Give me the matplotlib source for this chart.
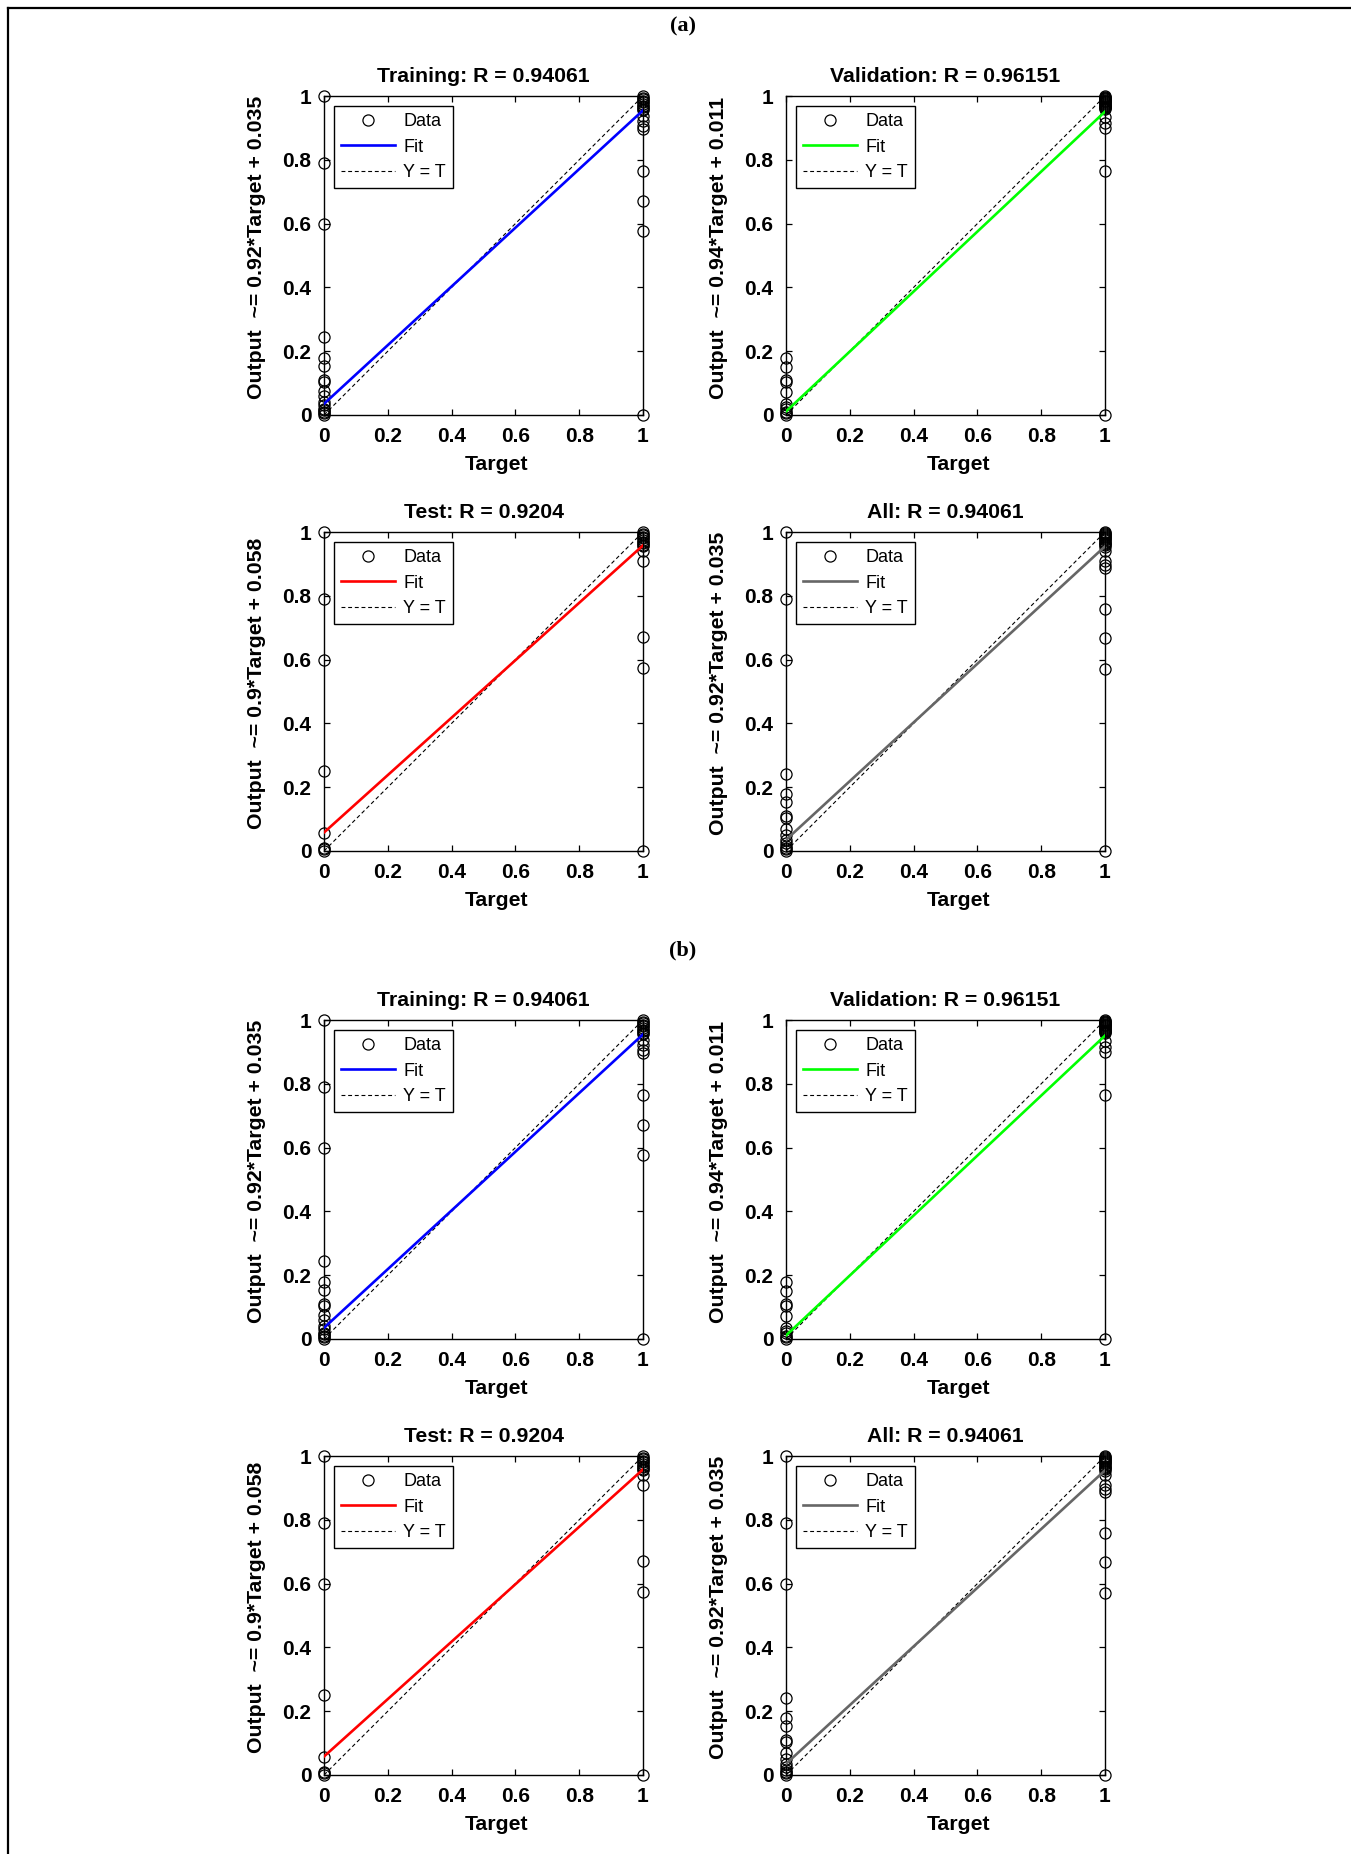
import matplotlib
matplotlib.use("Agg")
import matplotlib.pyplot as plt
from matplotlib.lines import Line2D
import numpy as np

plt.rcParams['font.family'] = ['Liberation Sans', 'DejaVu Sans']

# ---------------- data ----------------
panel_titles = ["Training: R = 0.94061", "Validation: R = 0.96151",
                "Test: R = 0.9204", "All: R = 0.94061"]
fit_slopes = [0.92, 0.94, 0.9, 0.92]
fit_intercepts = [0.035, 0.011, 0.058, 0.035]
ylabels = ["Output  ~= 0.92*Target + 0.035", "Output  ~= 0.94*Target + 0.011",
           "Output  ~= 0.9*Target + 0.058", "Output  ~= 0.92*Target + 0.035"]
fit_colors = ["#0000ff", "#00ff00", "#ff0000", "#666666"]

train_out_t0 = [1.0, 0.79, 0.6, 0.245, 0.18, 0.155, 0.11, 0.105, 0.075, 0.06,
                0.04, 0.03, 0.02, 0.015, 0.01, 0.005, 0.0]
train_out_t1 = [1.0, 0.995, 0.99, 0.985, 0.98, 0.975, 0.97, 0.965, 0.96, 0.955,
                0.938, 0.922, 0.906, 0.896, 0.765, 0.67, 0.576, 0.0]
val_out_t0 = [0.178, 0.152, 0.11, 0.104, 0.072, 0.035, 0.026, 0.018, 0.01, 0.005, 0.0]
val_out_t1 = [1.0, 0.998, 0.995, 0.993, 0.99, 0.988, 0.985, 0.983, 0.98, 0.978,
              0.975, 0.972, 0.97, 0.967, 0.965, 0.962, 0.96, 0.935, 0.915, 0.9,
              0.765, 0.0]
test_out_t0 = [1.0, 0.79, 0.6, 0.25, 0.056, 0.01, 0.005, 0.0]
test_out_t1 = [1.0, 0.995, 0.99, 0.985, 0.98, 0.975, 0.97, 0.965, 0.96, 0.955,
               0.939, 0.908, 0.672, 0.574, 0.0]
all_out_t0 = [1.0, 0.79, 0.6, 0.24, 0.18, 0.155, 0.11, 0.105, 0.07, 0.05,
              0.035, 0.025, 0.015, 0.01, 0.005, 0.0]
all_out_t1 = [1.0, 0.997, 0.994, 0.99, 0.987, 0.984, 0.98, 0.977, 0.974, 0.97,
              0.966, 0.962, 0.958, 0.954, 0.94, 0.91, 0.895, 0.887, 0.76, 0.668,
              0.57, 0.0]

panel_t0 = [train_out_t0, val_out_t0, test_out_t0, all_out_t0]
panel_t1 = [train_out_t1, val_out_t1, test_out_t1, all_out_t1]

tick_vals = [0, 0.2, 0.4, 0.6, 0.8, 1]
tick_labels = ["0", "0.2", "0.4", "0.6", "0.8", "1"]
group_labels = ["(a)", "(b)"]

# ---------------- layout ----------------
W, H = 1351, 1854
fig = plt.figure(figsize=(W / 100, H / 100), dpi=100)

col_left = [324, 786]
ax_w = 319
row_top = [[96, 532], [1020, 1456]]
group_label_y = [26, 950]

FS = 15


def draw_panel(ax, i):
    t0 = panel_t0[i]
    t1 = panel_t1[i]
    xs = [0] * len(t0) + [1] * len(t1)
    ys = list(t0) + list(t1)
    ax.plot(xs, ys, linestyle='none', marker='o', markersize=8,
            markerfacecolor='none', markeredgecolor='black', markeredgewidth=0.9,
            clip_on=False, zorder=3, label='Data')
    xf = np.array([0.0, 1.0])
    ax.plot(xf, fit_slopes[i] * xf + fit_intercepts[i], color=fit_colors[i],
            lw=1.9, zorder=4, label='Fit')
    ax.plot(xf, xf, color='black', lw=0.8, linestyle=(0, (3.5, 2.5)),
            zorder=2, label='Y = T')
    ax.set_xlim(0, 1)
    ax.set_ylim(0, 1)
    ax.set_xticks(tick_vals)
    ax.set_xticklabels(tick_labels)
    ax.set_yticks(tick_vals)
    ax.set_yticklabels(tick_labels)
    ax.tick_params(direction='in', length=4, width=0.9, top=True, right=True,
                   labelsize=FS, pad=9)
    for lab in ax.get_xticklabels() + ax.get_yticklabels():
        lab.set_fontweight('bold')
    for s in ax.spines.values():
        s.set_linewidth(1.0)
        s.set_color('black')
    ax.set_title(panel_titles[i], fontsize=15.3, fontweight='bold', pad=10)
    ax.set_xlabel('Target', fontsize=15.3, fontweight='bold', labelpad=6, x=0.54)
    ax.set_ylabel(ylabels[i], fontsize=15.3, fontweight='bold', labelpad=12, y=0.525)
    leg = ax.legend(loc='upper left', fontsize=13, frameon=True, fancybox=False,
                    edgecolor='black', framealpha=1, borderaxespad=0.55,
                    handlelength=3.0, handletextpad=0.45, labelspacing=0.47,
                    borderpad=0.4, numpoints=1)
    leg.get_frame().set_linewidth(1.0)


for g in range(2):
    for r in range(2):
        for c in range(2):
            i = r * 2 + c
            left = col_left[c] / W
            top = row_top[g][r]
            bottom = 1 - (top + ax_w) / H
            ax = fig.add_axes([left, bottom, ax_w / W, ax_w / H])
            draw_panel(ax, i)
    fig.text(683 / W, 1 - group_label_y[g] / H, group_labels[g],
             family=['Liberation Serif', 'DejaVu Serif'], fontweight='bold',
             fontsize=16, ha='center', va='center')

# frame lines (top and left)
fig.add_artist(Line2D([8 / W, 1], [1 - 8 / H, 1 - 8 / H], transform=fig.transFigure,
                      color='black', lw=1.6))
fig.add_artist(Line2D([8 / W, 8 / W], [0, 1 - 8 / H], transform=fig.transFigure,
                      color='black', lw=1.6))

fig.savefig('out.png', dpi=100, facecolor='white')
